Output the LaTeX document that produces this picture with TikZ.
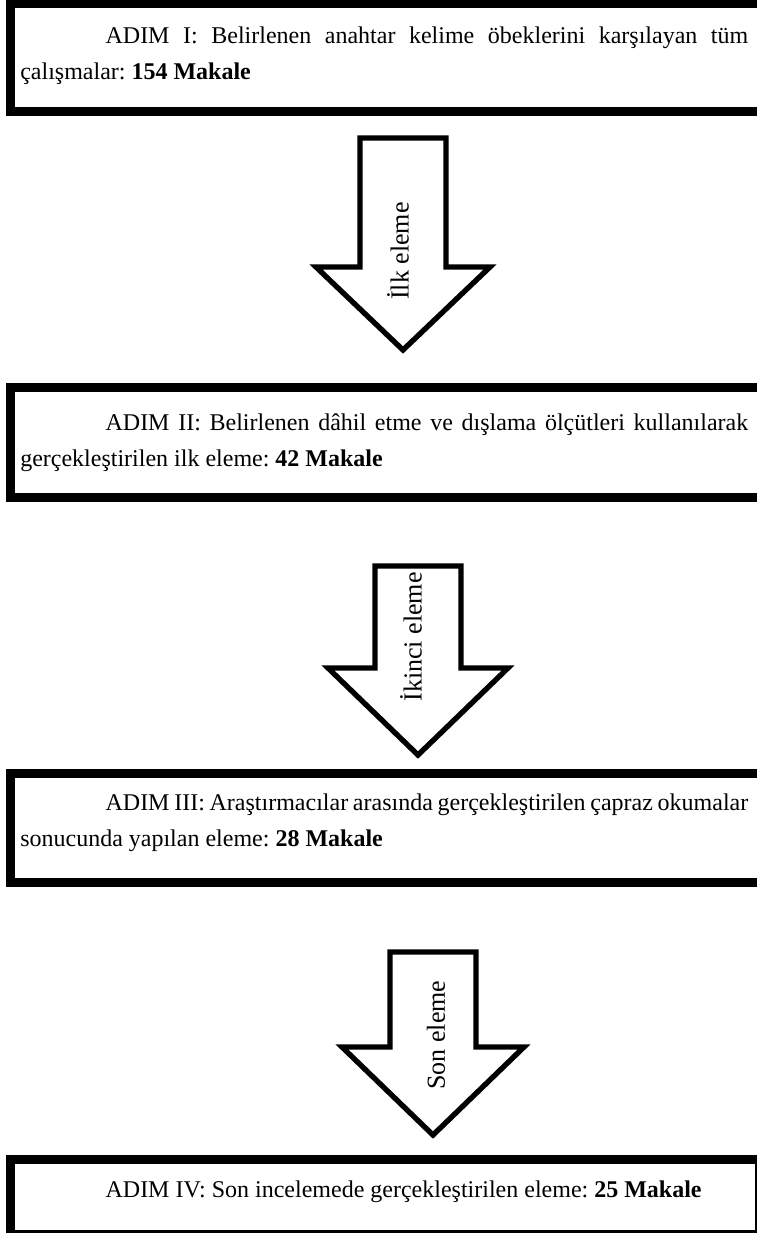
\documentclass[tikz,border=0pt]{standalone}
\usepackage{fontspec}
\setmainfont{Liberation Serif}
\begin{document}
\hyphenpenalty=10000\relax
\exhyphenpenalty=10000\relax
\frenchspacing
\begin{tikzpicture}[x=0.75pt,y=-0.75pt,
  stepbox/.style={draw, line width=6.75pt},
  blockarrow/.style={draw, line width=4pt, line join=miter, miter limit=10, fill=white},
  boxtext/.style={anchor=north west, inner sep=0pt, text width=546pt, align=justify,
    font=\fontsize{18}{27}\selectfont},
  arrowlabel/.style={rotate=90, inner sep=0pt, font=\fontsize{19.5}{22}\selectfont}]
\useasboundingbox (0,0) rectangle (757,1233);
\clip (0,0) rectangle (757,1233);
% boxes
\draw[stepbox] (10.5,3) rectangle (775,111);
\draw[stepbox] (10.5,387.5) rectangle (775,497.5);
\draw[stepbox] (10.5,773) rectangle (775,882.5);
\draw[stepbox] (10.5,1159) rectangle (759.5,1234.5);
\node[boxtext] (t1) at (20,26.5) {\hspace*{64pt}ADIM I: Belirlenen anahtar kelime öbeklerini karşılayan tüm çalışmalar: \textbf{154 Makale}};
\node[boxtext] (t2) at (20,414) {\hspace*{64pt}ADIM II: Belirlenen dâhil etme ve dışlama ölçütleri kullanılarak gerçekleştirilen ilk eleme: \textbf{42 Makale}};
\node[boxtext] (t3) at (20,794) {\hspace*{64pt}ADIM III: Araştırmacılar arasında gerçekleştirilen çapraz okumalar sonucunda yapılan eleme: \textbf{28 Makale}};
\node[boxtext] (t4) at (20,1181) {\hspace*{64pt}ADIM IV: Son incelemede gerçekleştirilen eleme: \textbf{25 Makale}};
% arrows
\draw[blockarrow] (360,138) -- (446,138) -- (446,267) -- (490,267) -- (403,350) -- (316,267) -- (360,267) -- cycle;
\node[arrowlabel] (l1) at (398,251) {İlk eleme};
\draw[blockarrow] (375,566) -- (461,566) -- (461,668) -- (508,668) -- (418,755) -- (328,668) -- (375,668) -- cycle;
\node[arrowlabel] (l2) at (411,637) {İkinci eleme};
\draw[blockarrow] (390,952) -- (476,952) -- (476,1047) -- (524,1047) -- (433,1135) -- (342,1047) -- (390,1047) -- cycle;
\node[arrowlabel] (l3) at (436,1035) {Son eleme};
\end{tikzpicture}
\end{document}
